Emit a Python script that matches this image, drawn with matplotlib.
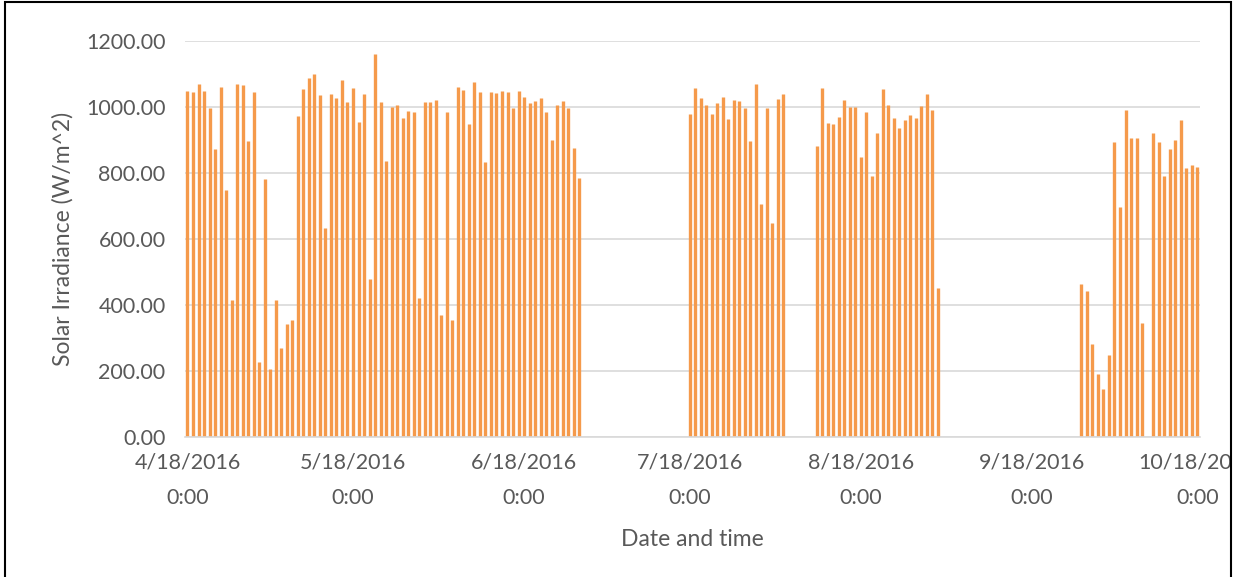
# -*- coding: utf-8 -*-
"""Daily peak solar irradiance, Apr - Oct 2016 (Excel-style line chart redraw)."""

import numpy as np
import pandas as pd
import matplotlib
matplotlib.use("Agg")
import matplotlib.pyplot as plt
import matplotlib.dates as mdates
from matplotlib.patches import Rectangle
from matplotlib.transforms import Bbox, TransformedBbox


# ── data: daily peak irradiance (W/m^2), one value per day ────────────

seg1_start = "2016-04-18"
seg1_peaks = [1050, 1045, 1070, 1048, 998, 872, 1062, 747, 414, 1070,
              1066, 897, 1044, 228, 781, 207, 416, 271, 341, 354,
              973, 1054, 1087, 1101, 1035, 632, 1040, 1028, 1082, 1016,
              1059, 956, 1038, 478, 1160, 1016, 835, 1001, 1006, 966,
              988, 985, 420, 1014, 1016, 1022, 370, 985, 354, 1061,
              1053, 950, 1076, 1044, 832, 1044, 1041, 1048, 1045, 998,
              1050, 1029, 1012, 1017, 1026, 986, 899, 1005, 1017, 998,
              877, 786]

seg2_start = "2016-07-18"
seg2_peaks = [980, 1057, 1026, 1006, 980, 1011, 1030, 963, 1020, 1017,
              998, 897, 1069, 707, 996, 648, 1023, 1040]

seg3_start = "2016-08-10"
seg3_peaks = [882, 1059, 953, 950, 971, 1021, 1000, 1000, 850, 986,
              791, 921, 1055, 1005, 967, 935, 960, 975, 968, 1003,
              1040, 992, 453]

seg4_start = "2016-09-27"
seg4_peaks = [465, 441, 281, 192, 144, 249, 895, 697, 992, 907, 907, 346]

seg5_start = "2016-10-10"
seg5_peaks = [922, 893, 790, 872, 901, 960, 814, 825, 817]

tick_dates = ["2016-04-18", "2016-05-18", "2016-06-18", "2016-07-18",
              "2016-08-18", "2016-09-18", "2016-10-18"]

y_ticks = [0, 200, 400, 600, 800, 1000, 1200]


def build_series():
    """세그먼트별 (시작일, 값) 을 하나의 날짜/값 시리즈로 합친다."""
    parts = []
    for start, peaks in [(seg1_start, seg1_peaks), (seg2_start, seg2_peaks),
                         (seg3_start, seg3_peaks), (seg4_start, seg4_peaks),
                         (seg5_start, seg5_peaks)]:
        idx = pd.date_range(start, periods=len(peaks), freq="D")
        parts.append(pd.Series(peaks, index=idx, dtype=float))
    return pd.concat(parts)


# ── plot ─────────────────────────────────────────────────────────────

plt.rcParams["font.family"] = ["Lato", "DejaVu Sans"]

W, H = 1234, 577
fig = plt.figure(figsize=(W / 100, H / 100), dpi=100)
ax = fig.add_axes([185 / W, 1 - 437 / H, (1200 - 185) / W, (437 - 41) / H])

s = build_series()
ORANGE = "#F59A4B"
GRID = "#D9D9D9"
TXT = "#595959"

# each day's readings stack on one date slot -> a vertical stroke 0..peak
ax.vlines(s.index, 0, s.values, color=ORANGE, lw=2.4, zorder=3)

ax.set_ylim(0, 1200)
ax.set_yticks(y_ticks)
ax.yaxis.set_major_formatter(matplotlib.ticker.FormatStrFormatter("%.2f"))

x0 = mdates.date2num(pd.Timestamp(tick_dates[0])) - 0.45
x1 = mdates.date2num(pd.Timestamp(tick_dates[-1])) + 0.5
ax.set_xlim(x0, x1)
ax.set_xticks(mdates.date2num(pd.to_datetime(tick_dates)))
ax.set_xticklabels([f"{d.month}/{d.day}/{d.year}\n0:00"
                    for d in pd.to_datetime(tick_dates)], linespacing=2.0)

ax.grid(True, axis="y", color=GRID, lw=1.2, zorder=0)
ax.set_axisbelow(True)
for side in ["top", "right", "left"]:
    ax.spines[side].set_visible(False)
ax.spines["bottom"].set_color(GRID)
ax.spines["bottom"].set_linewidth(1.2)
ax.spines["bottom"].set_zorder(4)

ax.tick_params(axis="both", length=0, labelsize=15.5, colors=TXT)
ax.tick_params(axis="y", pad=14)
ax.tick_params(axis="x", pad=11)

ax.set_ylabel("Solar Irradiance (W/m^2)", fontsize=16.5, color=TXT, labelpad=9)
ax.set_xlabel("Date and time", fontsize=16.5, color=TXT, labelpad=15)

# 오른쪽 끝 라벨은 테두리에서 잘린다 (원본과 동일)
clip = TransformedBbox(Bbox([[0, 0], [1230 / W, 1]]), fig.transFigure)
for lab in ax.get_xticklabels():
    lab.set_clip_box(clip)
    lab.set_clip_on(True)

# outer chart border
fig.patches.append(Rectangle((5 / W, -0.01), (1231 - 5) / W, 1 - 2 / H + 0.01,
                             transform=fig.transFigure, fill=False,
                             edgecolor="black", lw=1.5))

fig.savefig("out.png", dpi=100)
